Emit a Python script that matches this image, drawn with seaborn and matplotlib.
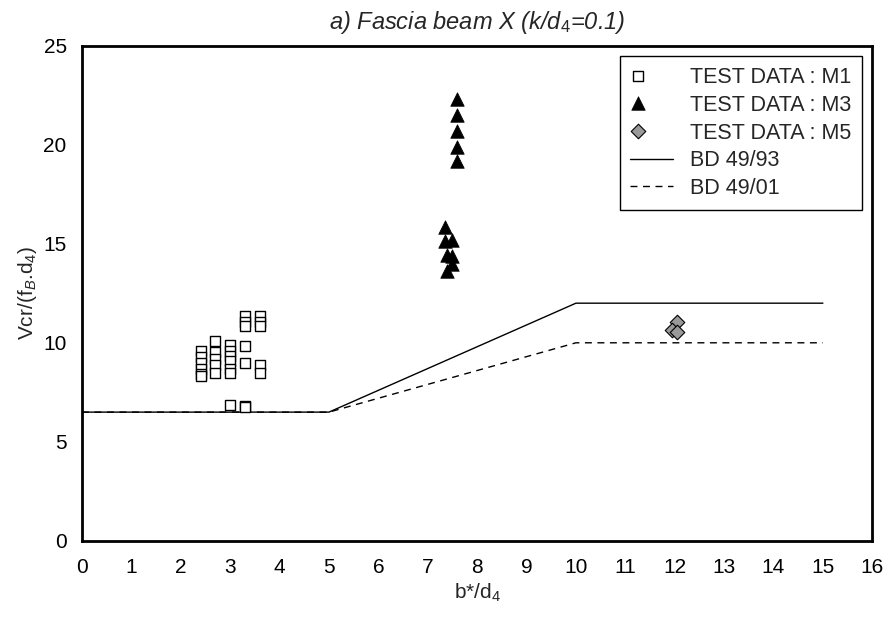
import matplotlib
matplotlib.use("Agg")
import matplotlib.pyplot as plt
from matplotlib.collections import PathCollection
from matplotlib.legend_handler import HandlerPathCollection
import seaborn as sns
import pandas as pd

# Test data: normalised cracking shear vs effective width ratio
m1_x = [2.4] * 6 + [2.7] * 5 + [3.0] * 7 + [3.3] * 7 + [3.6] * 5
m1_y = [9.6, 9.3, 9.0, 8.7, 8.4, 8.3,
        10.1, 9.55, 9.2, 8.9, 8.5,
        9.9, 9.6, 9.35, 9.1, 8.7, 8.5, 6.85,
        11.35, 11.05, 10.85, 9.85, 9.0, 6.8, 6.75,
        11.35, 11.05, 10.85, 8.9, 8.45]

m3_x = [7.6] * 5 + [7.35, 7.35, 7.5, 7.4, 7.5, 7.5, 7.4]
m3_y = [22.3, 21.5, 20.7, 19.9, 19.2,
        15.85, 15.15, 15.2, 14.45, 14.4, 14.0, 13.65]

m5_x = [12.05, 11.95, 12.05]
m5_y = [11.05, 10.65, 10.55]

# Code design curves
bd_x = [0, 5, 10, 15]
bd93_y = [6.5, 6.5, 12, 12]
bd01_y = [6.5, 6.5, 10, 10]

x_ticks = list(range(0, 17))
y_ticks = [0, 5, 10, 15, 20, 25]


class LeftMarkerHandler(HandlerPathCollection):
    """Draw the scatter legend marker near the left end of the handle box."""

    def get_xdata(self, legend, xdescent, ydescent, width, height, fontsize):
        x = -xdescent + 0.18 * width
        return [x], [x]


sns.set_theme(style="white")
plt.rcParams["font.family"] = ["Liberation Sans", "DejaVu Sans"]
plt.rcParams["mathtext.fontset"] = "custom"
plt.rcParams["mathtext.rm"] = "Liberation Sans"
plt.rcParams["mathtext.it"] = "Liberation Sans:italic"

fig = plt.figure(figsize=(8.91, 6.26), dpi=100)
ax = fig.add_axes([0.092, 0.136, 0.887, 0.791])

m1 = pd.DataFrame({"x": m1_x, "y": m1_y})
m3 = pd.DataFrame({"x": m3_x, "y": m3_y})
m5 = pd.DataFrame({"x": m5_x, "y": m5_y})
bd = pd.DataFrame({"x": bd_x, "y93": bd93_y, "y01": bd01_y})

sns.scatterplot(data=m1, x="x", y="y", ax=ax, marker="s", s=55,
                facecolor="white", edgecolor="black", linewidth=1.0,
                label="TEST DATA : M1", zorder=3)
sns.scatterplot(data=m3, x="x", y="y", ax=ax, marker="^", s=95,
                color="black", edgecolor="black", linewidth=0.5,
                label="TEST DATA : M3", zorder=3)
sns.scatterplot(data=m5, x="x", y="y", ax=ax, marker="D", s=55,
                color="#999999", edgecolor="black", linewidth=0.8,
                label="TEST DATA : M5", zorder=3)
sns.lineplot(data=bd, x="x", y="y93", ax=ax, color="black", linewidth=1.0,
             label="BD 49/93", zorder=2)
sns.lineplot(data=bd, x="x", y="y01", ax=ax, color="black", linewidth=1.0,
             linestyle=(0, (5, 4)), label="BD 49/01", zorder=2)

ax.set_xlim(0, 16)
ax.set_ylim(0, 25)
ax.set_xticks(x_ticks)
ax.set_yticks(y_ticks)
ax.tick_params(axis="both", direction="in", length=9, width=1,
               labelsize=15, colors="black")
ax.tick_params(axis="x", pad=12)
ax.tick_params(axis="y", pad=11)
for sp in ax.spines.values():
    sp.set_linewidth(2)
    sp.set_color("black")

ax.set_xlabel("b*/d$_4$", fontsize=15, labelpad=4)
ax.set_ylabel("Vcr/(f$_B$.d$_4$)", fontsize=15, labelpad=3)
ax.set_title("a) Fascia beam X (k/d$_4$=0.1)", fontsize=17, style="italic",
             pad=12)

leg = ax.legend(loc="upper right", fontsize=15.5, frameon=True, fancybox=False,
                edgecolor="black", framealpha=1, borderaxespad=0.5,
                handlelength=2.0, labelspacing=0.31, handletextpad=0.75,
                borderpad=0.5, scatteryoffsets=[0.5],
                handler_map={PathCollection: LeftMarkerHandler()})
leg.get_frame().set_linewidth(1.0)

fig.savefig("out.png", dpi=100)
